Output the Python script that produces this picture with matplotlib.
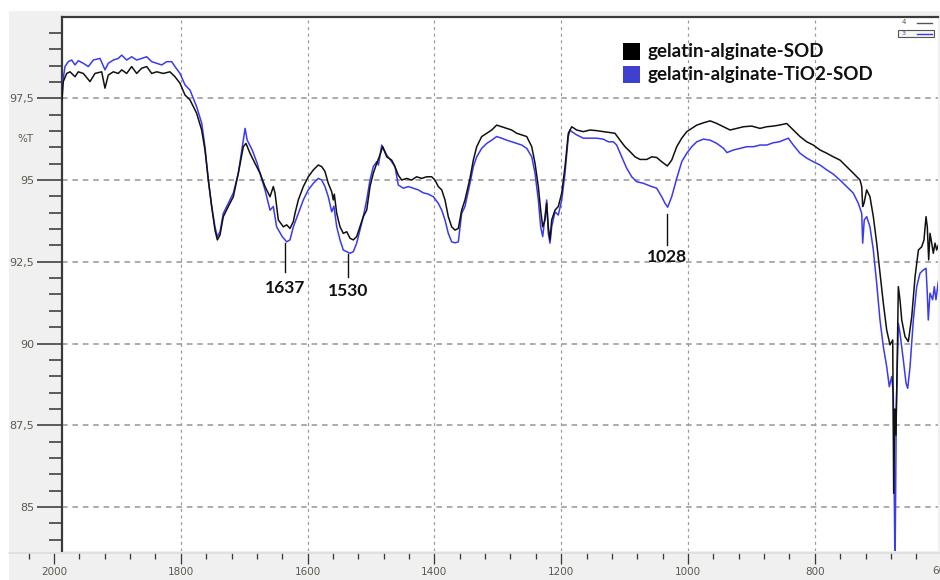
import matplotlib
matplotlib.use("Agg")
import matplotlib.pyplot as plt
from matplotlib.patches import Rectangle
from matplotlib.ticker import MultipleLocator, FuncFormatter
from matplotlib.lines import Line2D

# ---------------- data ----------------
wn_sod = [1987.4, 1985.4, 1980.0, 1974.8, 1966.9, 1961.7, 1953.8, 1943.2, 1935.4, 1924.8,
          1919.6, 1914.4, 1906.5, 1898.6, 1893.2, 1885.4, 1877.5, 1869.6, 1861.7, 1853.8,
          1845.9, 1838.0, 1827.6, 1817.1, 1809.2, 1801.3, 1793.4, 1785.5, 1775.0, 1767.1,
          1761.9, 1756.6, 1751.3, 1746.1, 1742.4, 1738.2, 1733.0, 1725.1, 1717.2, 1709.3,
          1701.4, 1697.2, 1690.9, 1683.0, 1675.1, 1667.2, 1659.3, 1654.1, 1651.4, 1646.2,
          1638.3, 1633.0, 1627.8, 1622.5, 1619.9, 1614.7, 1606.8, 1598.9, 1591.0, 1583.1,
          1577.8, 1572.6, 1567.4, 1562.0, 1559.5, 1557.9, 1554.1, 1548.9, 1543.7, 1538.3,
          1533.1, 1527.9, 1522.6, 1517.5, 1512.2, 1506.8, 1501.6, 1496.4, 1491.0, 1485.8,
          1481.6, 1475.3, 1467.4, 1462.2, 1457.0, 1451.6, 1443.9, 1435.9, 1428.1, 1420.2,
          1412.2, 1404.3, 1399.1, 1393.9, 1388.5, 1383.3, 1378.1, 1372.8, 1367.5, 1362.3,
          1357.0, 1351.8, 1343.9, 1338.6, 1333.3, 1325.4, 1317.5, 1309.6, 1301.8, 1293.9,
          1286.0, 1278.1, 1270.2, 1262.3, 1254.4, 1246.5, 1241.3, 1236.1, 1232.4, 1229.2,
          1225.6, 1222.9, 1220.4, 1217.7, 1215.0, 1209.8, 1204.6, 1199.2, 1194.0, 1188.8,
          1183.4, 1175.6, 1165.1, 1154.6, 1144.0, 1133.6, 1123.0, 1115.2, 1107.3, 1099.4,
          1091.5, 1083.6, 1075.7, 1065.1, 1057.2, 1049.4, 1041.5, 1032.6, 1025.7, 1017.8,
          1009.9, 1002.0, 994.1, 986.2, 975.7, 965.1, 954.6, 944.0, 933.6, 923.0,
          912.5, 899.6, 886.4, 875.9, 865.5, 855.9, 844.3, 833.9, 823.4, 812.8,
          802.4, 791.8, 781.2, 770.8, 760.3, 749.7, 739.3, 728.7, 726.0, 724.5,
          722.4, 718.2, 713.0, 707.7, 702.4, 697.2, 691.9, 686.6, 681.4, 677.1,
          675.6, 673.8, 672.0, 670.0, 668.3, 665.6, 662.9, 657.7, 652.5, 647.1,
          641.9, 636.6, 631.4, 627.8, 624.6, 622.6, 620.4, 618.3, 615.6, 613.1,
          610.4, 607.8, 605.2]
t_sod = [97.45, 98.01, 98.26, 98.31, 98.16, 98.31, 98.26, 98.01, 98.26, 98.31,
         97.81, 98.21, 98.31, 98.26, 98.37, 98.26, 98.47, 98.26, 98.42, 98.47,
         98.26, 98.31, 98.26, 98.31, 98.16, 97.96, 97.60, 97.45, 97.04, 96.53,
         95.92, 95.00, 94.19, 93.47, 93.17, 93.32, 93.88, 94.19, 94.49, 95.21,
         96.02, 96.12, 95.82, 95.51, 95.21, 94.80, 94.49, 94.80, 94.60, 93.78,
         93.57, 93.63, 93.52, 93.73, 93.98, 94.39, 94.80, 95.10, 95.31, 95.46,
         95.41, 95.26, 94.90, 94.64, 94.39, 94.57, 93.98, 93.57, 93.37, 93.42,
         93.22, 93.17, 93.27, 93.57, 93.88, 94.08, 94.80, 95.21, 95.51, 95.77,
         96.02, 95.71, 95.61, 95.41, 95.15, 95.00, 95.05, 95.00, 95.10, 95.05,
         95.10, 95.10, 95.00, 94.80, 94.70, 94.39, 93.88, 93.57, 93.47, 93.52,
         94.08, 94.39, 95.05, 95.61, 96.02, 96.33, 96.43, 96.53, 96.68, 96.63,
         96.58, 96.53, 96.43, 96.38, 96.33, 96.02, 95.51, 94.80, 94.08, 93.57,
         93.78, 94.29, 93.57, 93.17, 93.78, 94.08, 94.19, 94.60, 95.41, 96.43,
         96.63, 96.53, 96.48, 96.53, 96.51, 96.48, 96.45, 96.43, 96.22, 96.02,
         95.87, 95.71, 95.63, 95.63, 95.71, 95.69, 95.56, 95.43, 95.61, 96.02,
         96.28, 96.48, 96.58, 96.68, 96.75, 96.81, 96.73, 96.63, 96.53, 96.58,
         96.63, 96.65, 96.58, 96.63, 96.65, 96.68, 96.73, 96.53, 96.33, 96.17,
         96.07, 95.92, 95.82, 95.71, 95.61, 95.41, 95.21, 95.00, 94.80, 94.19,
         94.29, 94.70, 94.49, 93.88, 93.07, 92.15, 91.23, 90.41, 89.96, 90.11,
         85.42, 88.00, 87.20, 89.50, 91.74, 91.33, 90.72, 90.21, 90.06, 90.82,
         92.04, 92.86, 92.96, 93.17, 93.88, 93.57, 92.56, 93.37, 93.07, 92.76,
         93.07, 92.86, 93.01]

wn_tio2 = [1987.4, 1982.7, 1977.5, 1972.1, 1966.9, 1961.7, 1953.8, 1945.9, 1938.0, 1927.5,
           1919.6, 1914.4, 1906.5, 1898.6, 1893.2, 1885.4, 1877.5, 1869.6, 1861.7, 1853.8,
           1845.9, 1838.0, 1830.1, 1822.3, 1814.4, 1809.2, 1801.3, 1793.4, 1785.5, 1775.0,
           1767.1, 1761.9, 1756.6, 1751.3, 1746.1, 1742.4, 1738.2, 1733.0, 1725.1, 1717.2,
           1709.3, 1701.4, 1698.6, 1695.3, 1687.4, 1679.5, 1675.1, 1667.2, 1659.3, 1654.1,
           1648.9, 1640.0, 1633.0, 1627.8, 1622.5, 1614.7, 1606.8, 1598.9, 1591.0, 1583.1,
           1577.8, 1572.6, 1567.4, 1562.0, 1558.5, 1554.1, 1548.9, 1543.7, 1538.3, 1533.1,
           1527.9, 1522.6, 1517.5, 1512.2, 1506.8, 1501.6, 1496.4, 1491.0, 1488.3, 1483.1,
           1475.3, 1467.4, 1462.2, 1457.0, 1449.1, 1441.2, 1433.4, 1425.5, 1417.7, 1409.6,
           1401.7, 1393.9, 1388.5, 1383.3, 1378.1, 1372.8, 1367.5, 1362.3, 1357.0, 1351.8,
           1343.9, 1338.6, 1333.3, 1325.4, 1317.5, 1309.6, 1301.8, 1293.9, 1286.0, 1278.1,
           1270.2, 1262.3, 1254.4, 1246.5, 1241.3, 1236.1, 1232.4, 1229.2, 1225.6, 1222.9,
           1220.4, 1217.7, 1215.0, 1209.8, 1204.6, 1199.2, 1194.0, 1188.8, 1186.1, 1183.4,
           1175.6, 1165.1, 1154.6, 1144.0, 1133.6, 1125.7, 1117.8, 1112.5, 1104.6, 1096.7,
           1088.8, 1080.9, 1070.5, 1059.9, 1049.4, 1041.5, 1036.3, 1032.1, 1025.7, 1017.8,
           1009.9, 1002.0, 994.1, 986.2, 975.7, 965.1, 954.6, 944.0, 938.6, 928.2,
           917.6, 907.0, 896.6, 886.4, 875.9, 865.5, 855.9, 841.8, 833.9, 823.4,
           812.8, 802.4, 791.8, 781.2, 770.8, 760.3, 749.7, 739.3, 731.4, 726.0,
           724.5, 722.0, 718.2, 713.0, 707.7, 702.4, 697.2, 691.9, 686.6, 682.5,
           678.7, 676.2, 673.5, 671.5, 668.3, 665.6, 660.4, 656.1, 653.5, 649.8,
           644.6, 639.3, 634.1, 628.8, 624.6, 622.6, 621.0, 618.3, 614.1, 611.5,
           608.9, 605.2]
t_tio2 = [97.85, 98.47, 98.62, 98.67, 98.52, 98.65, 98.57, 98.47, 98.67, 98.72,
          98.37, 98.57, 98.67, 98.72, 98.82, 98.67, 98.77, 98.67, 98.72, 98.77,
          98.62, 98.57, 98.52, 98.62, 98.62, 98.47, 98.26, 97.91, 97.75, 97.24,
          96.74, 96.02, 95.00, 94.19, 93.57, 93.27, 93.42, 93.98, 94.29, 94.60,
          95.21, 96.22, 96.58, 96.22, 95.92, 95.51, 95.21, 94.70, 94.08, 94.19,
          93.57, 93.27, 93.11, 93.17, 93.57, 93.98, 94.39, 94.70, 94.90, 95.05,
          95.00, 94.80, 94.49, 94.03, 94.20, 93.57, 93.17, 92.86, 92.81, 92.76,
          92.81, 93.07, 93.47, 93.88, 94.39, 95.00, 95.41, 95.56, 95.46, 96.07,
          95.77, 95.56, 95.41, 94.85, 94.75, 94.80, 94.75, 94.70, 94.61, 94.57,
          94.49, 94.29, 94.08, 93.78, 93.37, 93.11, 93.08, 93.11, 93.98, 94.19,
          94.90, 95.41, 95.71, 95.97, 96.12, 96.22, 96.33, 96.28, 96.22, 96.17,
          96.12, 96.07, 95.97, 95.71, 95.21, 94.39, 93.57, 93.27, 93.88, 94.39,
          93.37, 93.07, 93.57, 94.03, 93.93, 94.39, 95.21, 96.33, 96.53, 96.48,
          96.38, 96.28, 96.28, 96.28, 96.25, 96.17, 96.17, 96.07, 95.71, 95.36,
          95.10, 94.95, 94.90, 94.82, 94.75, 94.49, 94.29, 94.17, 94.49, 95.05,
          95.56, 95.82, 96.02, 96.17, 96.25, 96.22, 96.12, 95.97, 95.84, 95.92,
          95.97, 96.02, 96.02, 96.07, 96.07, 96.14, 96.17, 96.28, 96.07, 95.82,
          95.67, 95.56, 95.46, 95.31, 95.18, 95.00, 94.80, 94.60, 94.29, 93.98,
          93.07, 93.78, 93.88, 93.57, 92.86, 91.84, 90.72, 89.90, 89.29, 88.68,
          88.99, 88.48, 83.00, 88.00, 90.62, 90.31, 89.50, 88.79, 88.63, 89.29,
          90.72, 91.74, 92.15, 92.25, 92.30, 91.54, 90.72, 91.54, 91.34, 91.74,
          91.34, 91.90]

series_labels = ["gelatin-alginate-SOD", "gelatin-alginate-TiO2-SOD"]
series_colors = ["#111111", "#3a3af0"]
peak_labels = ["1637", "1530", "1028"]
peak_wn = [1636.0, 1536.0, 1032.5]
peak_line_top = [93.07, 92.74, 93.96]
peak_line_bottom = [92.19, 92.03, 93.01]
peak_text_top = [91.95, 91.86, 92.90]

y_ticks = [85, 87.5, 90, 92.5, 95, 97.5]
x_ticks = [2000, 1800, 1600, 1400, 1200, 1000, 800, 600]

# ---------------- figure ----------------
W, H = 940, 580
PT = 0.72  # points per pixel at dpi 100
fig = plt.figure(figsize=(W / 100, H / 100), dpi=100, facecolor="white")

def fx(px):
    return px / W

def fy(py):
    return 1 - py / H

# gray panel (behind everything)
fig.patches.append(Rectangle((fx(9), 0), 1 - fx(9), fy(11), transform=fig.transFigure,
                             facecolor="#f0f0f0", edgecolor="none", zorder=-10))

# main axes
L, R, T, B = 62, 938, 17, 551
ax = fig.add_axes([fx(L), fy(B), fx(R - L), (B - T) / H])
ax.set_facecolor("white")
ax.set_xlim(1987.4, 605.7)
ax.set_ylim(83.656, 99.986)

ax.plot(wn_tio2, t_tio2, color=series_colors[1], lw=1.1, zorder=3)
ax.plot(wn_sod, t_sod, color=series_colors[0], lw=1.1, zorder=4)

for s in ["right", "bottom"]:
    ax.spines[s].set_visible(False)
for s in ["left", "top"]:
    ax.spines[s].set_linewidth(2.2 * PT)
    ax.spines[s].set_color("#3a3a3a")

ax.set_yticks(y_ticks)
ax.yaxis.set_minor_locator(MultipleLocator(0.5))
ax.yaxis.set_major_formatter(FuncFormatter(lambda v, p: f"{v:g}".replace(".", ",")))
ax.tick_params(axis="y", which="major", length=25 * PT, width=1.6 * PT, color="#3a3a3a",
               labelsize=8, labelcolor="#5a5a50", pad=3 * PT)
ax.tick_params(axis="y", which="minor", length=13 * PT, width=1.6 * PT, color="#3a3a3a")
ax.set_xticks(x_ticks[1:-1])
ax.tick_params(axis="x", which="both", length=0, labelbottom=False)

ax.grid(axis="y", color="#9a9a9a", linestyle=(0, (3.5, 3)), linewidth=1.6 * PT)
ax.grid(axis="x", color="#9a9a9a", linestyle=(0, (2.5, 3)), linewidth=1.2 * PT)
ax.set_axisbelow(True)

fig.text(fx(25), fy(139), "%T", fontsize=7.5, color="#5a5a50", ha="center", va="center")

# peak annotations
for lab, w, t0, t1, tt in zip(peak_labels, peak_wn, peak_line_top, peak_line_bottom,
                              peak_text_top):
    ax.plot([w, w], [t0, t1], color="#111111", lw=1.0, zorder=5)
    ax.text(w, tt, lab, ha="center", va="top", fontsize=12.5, fontweight="bold",
            family="Lato", color="#111111", zorder=5)

# bottom tick strip
sb_top, sb_bot = 553, 565
sax = fig.add_axes([fx(9), fy(sb_bot), 1 - fx(9), (sb_bot - sb_top) / H])
sax.set_facecolor("none")
sax.set_xlim(2071.0, 602.5)
for s in ["left", "right", "bottom"]:
    sax.spines[s].set_visible(False)
sax.spines["top"].set_color("#dcdcdc")
sax.spines["top"].set_linewidth(1.5 * PT)
sax.set_yticks([])
sax.set_xticks(x_ticks[:-1])
sax.xaxis.set_minor_locator(MultipleLocator(40))
sax.tick_params(axis="x", which="major", top=True, bottom=False, direction="in",
                length=11 * PT, width=1.3 * PT, color="#3a3a3a", labelsize=7.5,
                labelcolor="#5a5a50", pad=2 * PT)
sax.tick_params(axis="x", which="minor", top=True, bottom=False, direction="in",
                length=6 * PT, width=1.3 * PT, color="#3a3a3a")
sax.text(x_ticks[-1], -0.05, str(x_ticks[-1]), ha="center", va="top", fontsize=7.5,
         color="#5a5a50", transform=sax.get_xaxis_transform(), clip_on=False)

# legend
for i, (lab, col) in enumerate(zip(series_labels, ["#000000", "#4040d0"])):
    yc = 51.5 + 23 * i
    fig.patches.append(Rectangle((fx(623), fy(yc + 8.5)), fx(17), 17 / H,
                                 transform=fig.transFigure, facecolor=col,
                                 edgecolor="none", zorder=5))
    fig.text(fx(647), fy(yc), lab, fontsize=13.5, fontweight="bold", family="Lato",
             color="#111111", va="center", ha="left", zorder=6)

# small legend icon at top right
fig.patches.append(Rectangle((fx(898), fy(37)), fx(36), 7 / H, transform=fig.transFigure,
                             facecolor="#f6f6ea", edgecolor="#555555", lw=0.8, zorder=5))
fig.lines.append(Line2D([fx(917), fx(932)], [fy(33.5), fy(33.5)], transform=fig.transFigure,
                        color="#3a3af0", lw=1.0, zorder=6))
fig.lines.append(Line2D([fx(917), fx(932)], [fy(23), fy(23)], transform=fig.transFigure,
                        color="#555555", lw=1.0, zorder=6))
fig.text(fx(904), fy(22), "4", fontsize=5, color="#555555", ha="center", va="center")
fig.text(fx(904), fy(33.5), "3", fontsize=4.5, color="#3a3af0", ha="center", va="center",
         zorder=6)

fig.savefig("out.png", dpi=100, facecolor=fig.get_facecolor())
